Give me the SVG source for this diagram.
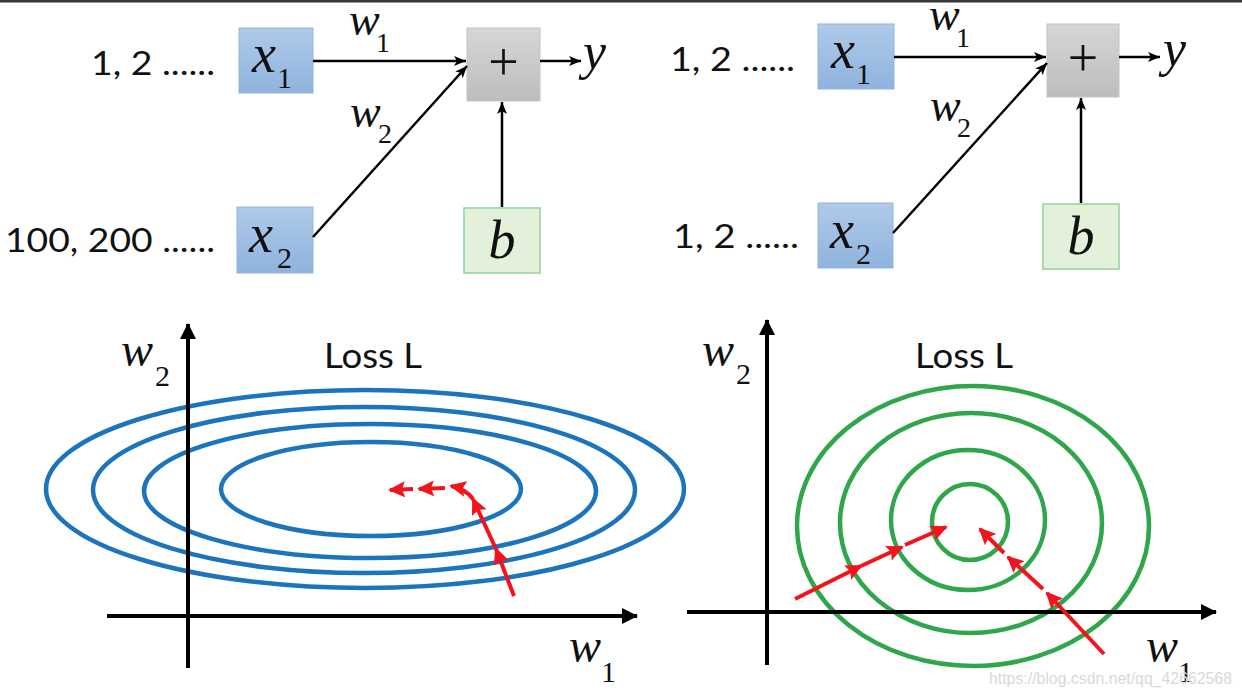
<svg xmlns="http://www.w3.org/2000/svg" width="1242" height="696" viewBox="0 0 1242 696">
<style>
.sans{font-family:'Lato','Liberation Sans',sans-serif;fill:#111}
.mi{font-family:'Liberation Serif','Times New Roman',serif;font-style:italic;fill:#111}
.sub{font-family:'Liberation Serif','Times New Roman',serif;font-style:normal}
.mr{font-family:'Liberation Serif','Times New Roman',serif;font-style:normal;fill:#111}
.conn{stroke:#000;stroke-width:2.5;fill:none;marker-end:url(#ah)}
.axis{stroke:#000;stroke-width:4;fill:none;marker-end:url(#axh)}
.red{stroke:#f2141c;stroke-width:4;fill:none;marker-end:url(#rh)}
.blue{fill:none;stroke:#1c74bc;stroke-width:4.5}
.green{fill:none;stroke:#2fa64a;stroke-width:4.5}
.xbox{fill:url(#gb);stroke:#93b6de;stroke-width:1}
.pbox{fill:url(#gg);stroke:#c4c4c4;stroke-width:1}
.bbox{fill:#e3f0da;stroke:#8fd39c;stroke-width:1.5}
</style>
<defs>
<linearGradient id="gb" x1="0" y1="0" x2="0" y2="1"><stop offset="0" stop-color="#afcaea"/><stop offset="1" stop-color="#8fb3dd"/></linearGradient>
<linearGradient id="gg" x1="0" y1="0" x2="0" y2="1"><stop offset="0" stop-color="#d6d6d6"/><stop offset="1" stop-color="#bdbdbd"/></linearGradient>
<marker id="ah" markerUnits="userSpaceOnUse" markerWidth="12" markerHeight="10" refX="12" refY="5" orient="auto"><path d="M0,0 L12,5 L0,10 L3,5 z" fill="#000"/></marker>
<marker id="axh" markerUnits="userSpaceOnUse" markerWidth="16" markerHeight="16" refX="15" refY="8" orient="auto"><path d="M0,0 L16,8 L0,16 z" fill="#000"/></marker>
<marker id="rh" markerUnits="userSpaceOnUse" markerWidth="17" markerHeight="16" refX="15" refY="8" orient="auto"><path d="M0,0 L17,8 L0,16 L3,8 z" fill="#f2141c"/></marker>
</defs>
<rect x="0" y="0" width="1242" height="696" fill="#fff"/>
<rect x="0" y="0" width="1242" height="2.5" fill="#35383c"/>

<!-- Top-left network -->
<g id="in1L"><text class="sans" x="91" y="75" font-size="33" textLength="124" lengthAdjust="spacingAndGlyphs">1, 2 ......</text></g>
<g id="in2L"><text class="sans" x="5" y="252" font-size="33" textLength="210" lengthAdjust="spacingAndGlyphs">100, 200 ......</text></g>
<g id="x1L"><rect class="xbox" x="239" y="28" width="74" height="65"/><text class="mi" x="252" y="72" font-size="54">x<tspan class="sub" x="277" y="88" font-size="30">1</tspan></text></g>
<g id="x2L"><rect class="xbox" x="237" y="207" width="76" height="66"/><text class="mi" x="249" y="252" font-size="54">x<tspan class="sub" x="277" y="268" font-size="30">2</tspan></text></g>
<g id="plusL"><rect class="pbox" x="467" y="28" width="73" height="73"/><text class="mr" x="503.5" y="80" font-size="54" text-anchor="middle">+</text></g>
<g id="bL"><rect class="bbox" x="464" y="208" width="76" height="65"/><text class="mi" x="502" y="258" font-size="54" text-anchor="middle">b</text></g>
<g id="yL"><text class="mi" x="583" y="69" font-size="52">y</text></g>
<g id="w1L"><text class="mi" x="349" y="35" font-size="46">w<tspan class="sub" x="376" y="52" font-size="28">1</tspan></text></g>
<g id="w2L"><text class="mi" x="350" y="127" font-size="46">w<tspan class="sub" x="378" y="143" font-size="28">2</tspan></text></g>

<!-- Top-right network -->
<g id="in1R"><text class="sans" x="670" y="71" font-size="33" textLength="125" lengthAdjust="spacingAndGlyphs">1, 2 ......</text></g>
<g id="in2R"><text class="sans" x="673" y="248" font-size="33" textLength="126" lengthAdjust="spacingAndGlyphs">1, 2 ......</text></g>
<g id="x1R"><rect class="xbox" x="818" y="24" width="76" height="65"/><text class="mi" x="831" y="68" font-size="54">x<tspan class="sub" x="856" y="84" font-size="30">1</tspan></text></g>
<g id="x2R"><rect class="xbox" x="818" y="203" width="75" height="65"/><text class="mi" x="830" y="248" font-size="54">x<tspan class="sub" x="856" y="264" font-size="30">2</tspan></text></g>
<g id="plusR"><rect class="pbox" x="1047" y="24" width="72" height="73"/><text class="mr" x="1083" y="76" font-size="54" text-anchor="middle">+</text></g>
<g id="bR"><rect class="bbox" x="1043" y="204" width="76" height="65"/><text class="mi" x="1081" y="254" font-size="54" text-anchor="middle">b</text></g>
<g id="yR"><text class="mi" x="1163" y="66" font-size="52">y</text></g>
<g id="w1R"><text class="mi" x="929" y="30" font-size="46">w<tspan class="sub" x="956" y="47" font-size="28">1</tspan></text></g>
<g id="w2R"><text class="mi" x="930" y="121" font-size="46">w<tspan class="sub" x="957" y="137" font-size="28">2</tspan></text></g>

<g id="connectors">
<path class="conn" d="M313,61 L466,61"/>
<path class="conn" d="M313,237 L467,66"/>
<path class="conn" d="M502,207 L502,102"/>
<path class="conn" d="M540,61 L581,61"/>
<path class="conn" d="M894,57 L1046,57"/>
<path class="conn" d="M893,233 L1047,63"/>
<path class="conn" d="M1081,203 L1081,98"/>
<path class="conn" d="M1119,57 L1160,57"/>
</g>

<!-- Bottom-left plot -->
<g id="plotL">
<ellipse class="blue" cx="365" cy="489" rx="319" ry="99"/>
<ellipse class="blue" cx="364" cy="490" rx="271" ry="83"/>
<ellipse class="blue" cx="370" cy="491" rx="226" ry="67"/>
<ellipse class="blue" cx="371" cy="489" rx="150" ry="47"/>
<path class="axis" d="M188,668 L188,324"/>
<path class="axis" d="M107,616 L637,616"/>
<text class="sans" x="324" y="368" font-size="34" textLength="98" lengthAdjust="spacingAndGlyphs">Loss L</text>
<text class="mi" x="121" y="366" font-size="48">w<tspan class="sub" x="155" y="386" font-size="30">2</tspan></text>
<text class="mi" x="569" y="662" font-size="48">w<tspan class="sub" x="601" y="682" font-size="30">1</tspan></text>
<path class="red" d="M514,596 L496,549"/>
<path class="red" d="M496,549 L473,499"/>
<path class="red" d="M473,499 Q466,489 451,486"/>
<path class="red" d="M445,488 L419,489"/>
<path class="red" d="M413,489 L390,490"/>
</g>

<!-- Bottom-right plot -->
<g id="plotR">
<ellipse class="green" cx="973" cy="526" rx="176" ry="140"/>
<ellipse class="green" cx="971" cy="523" rx="131" ry="110"/>
<ellipse class="green" cx="968" cy="520" rx="77" ry="70"/>
<ellipse class="green" cx="970" cy="522" rx="38" ry="38"/>
<path class="axis" d="M767,665 L767,320"/>
<path class="axis" d="M687,612 L1216,612"/>
<text class="sans" x="915" y="368" font-size="34" textLength="98" lengthAdjust="spacingAndGlyphs">Loss L</text>
<text class="mi" x="702" y="366" font-size="48">w<tspan class="sub" x="736" y="384" font-size="30">2</tspan></text>
<text class="mi" x="1146" y="662" font-size="48">w<tspan class="sub" x="1178" y="682" font-size="30">1</tspan></text>
<path class="red" d="M795,599 L861,566"/>
<path class="red" d="M861,566 L902,547"/>
<path class="red" d="M905,545 L946,527"/>
<path class="red" d="M1104,654 L1047,593"/>
<path class="red" d="M1043,589 L1008,557"/>
<path class="red" d="M1004,553 L980,529"/>
</g>

<g id="watermark"><text x="989" y="684" font-family="'Liberation Sans',Arial,sans-serif" font-size="17" fill="#d9d9d9" textLength="243" lengthAdjust="spacingAndGlyphs">https://blog.csdn.net/qq_42662568</text></g>
</svg>
